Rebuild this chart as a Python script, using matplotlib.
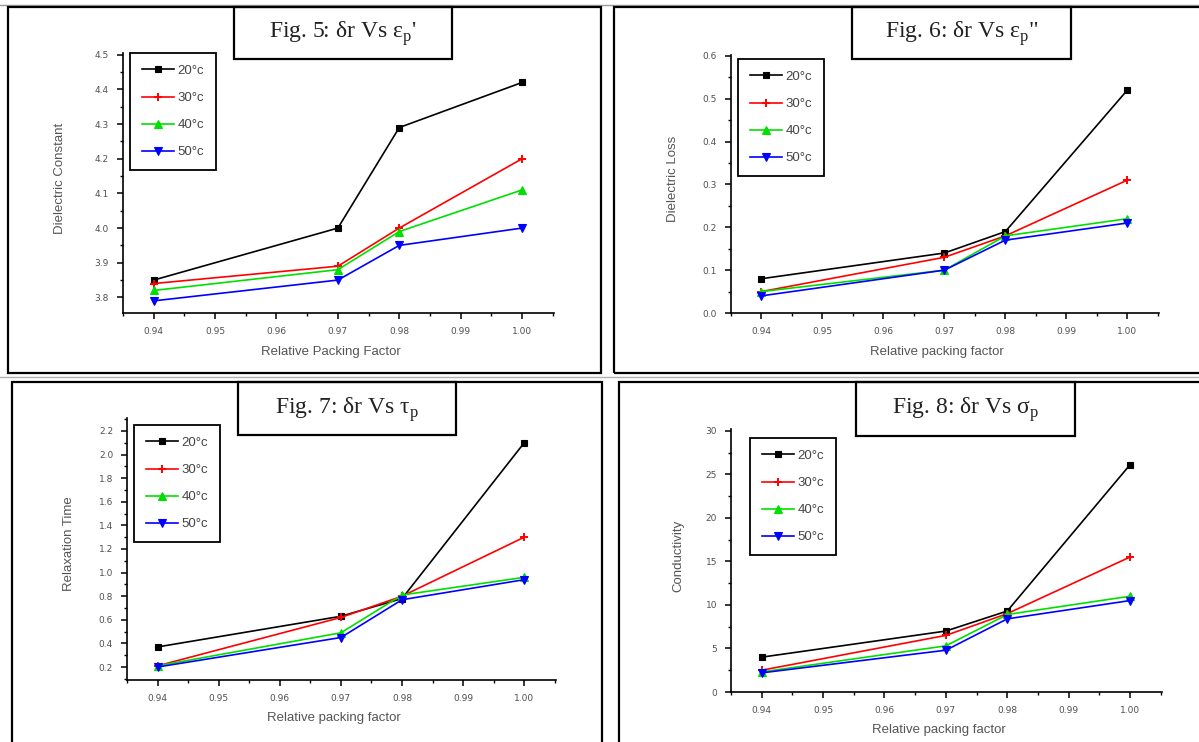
import matplotlib
matplotlib.use("Agg")
import matplotlib.pyplot as plt
from matplotlib.patches import Rectangle
from matplotlib.lines import Line2D
from matplotlib.ticker import MultipleLocator, AutoMinorLocator, FormatStrFormatter

# ---------------- data ----------------
packing_factor = [0.94, 0.97, 0.98, 1.00]
temps = ["20°c", "30°c", "40°c", "50°c"]

dielectric_constant = [
    [3.85, 4.00, 4.29, 4.42],
    [3.84, 3.89, 4.00, 4.20],
    [3.82, 3.88, 3.99, 4.11],
    [3.79, 3.85, 3.95, 4.00],
]
dielectric_loss = [
    [0.08, 0.14, 0.19, 0.52],
    [0.05, 0.13, 0.18, 0.31],
    [0.05, 0.10, 0.18, 0.22],
    [0.04, 0.10, 0.17, 0.21],
]
relaxation_time = [
    [0.37, 0.63, 0.78, 2.10],
    [0.21, 0.62, 0.80, 1.30],
    [0.21, 0.49, 0.81, 0.96],
    [0.20, 0.45, 0.77, 0.94],
]
conductivity = [
    [4.0, 7.0, 9.3, 26.1],
    [2.5, 6.5, 9.0, 15.5],
    [2.3, 5.3, 8.9, 11.0],
    [2.2, 4.8, 8.4, 10.5],
]

titles = [
    "Fig. 5: δr Vs ε$_\\mathregular{p}$'",
    "Fig. 6: δr Vs ε$_\\mathregular{p}$\"",
    "Fig. 7: δr Vs τ$_\\mathregular{p}$",
    "Fig. 8: δr Vs σ$_\\mathregular{p}$",
]
ylabels = ["Dielectric Constant", "Dielectric Loss", "Relaxation Time", "Conductivity"]
xlabels = ["Relative Packing Factor", "Relative packing factor",
           "Relative packing factor", "Relative packing factor"]

# ---------------- style ----------------
colors = ["black", "#ff0000", "#00e000", "#0000ff"]
markers = ["s", "+", "^", "v"]
msizes = [4.8, 6, 5.8, 5.8]

W, H = 1199, 742
fig = plt.figure(figsize=(W / 100, H / 100), dpi=100)

def fx(px):
    return px / W

def fy(py):
    return 1 - py / H

def box(x0, y0, x1, y1, lw=1.6, color="black", z=5):
    r = Rectangle((fx(x0), fy(y1)), fx(x1) - fx(x0), fy(y0) - fy(y1),
                  transform=fig.transFigure, fill=False, edgecolor=color,
                  linewidth=lw, zorder=z)
    fig.add_artist(r)

# panel borders
box(8, 7, 601, 373)
box(614, 7, 1210, 373)
box(12, 382, 602, 760)
box(619, 382, 1210, 760)
fig.add_artist(Line2D([0, 1], [fy(5), fy(5)], transform=fig.transFigure,
                      color="#9a9a9a", lw=1))
fig.add_artist(Line2D([0, 1], [fy(377.5), fy(377.5)], transform=fig.transFigure,
                      color="#b0b0b0", lw=1))

# axes geometry in pixels: left, right, top, bottom
axes_px = [
    (123, 554, 53, 313),
    (731, 1159, 55, 313),
    (127, 556, 418, 680),
    (731, 1162, 429, 692),
]
ylims = [(3.755, 4.505), (0.0, 0.602), (0.09, 2.31), (0.0, 30.2)]
ymajor = [0.1, 0.1, 0.2, 5]
yfmt = ["%.1f", "%.1f", "%.1f", "%d"]
title_px = [
    (234, 7, 452, 59),
    (852, 7, 1071, 59),
    (238, 382, 456, 435),
    (856, 382, 1075, 436),
]
legend_px = [(130, 53), (738, 59), (134, 425), (750, 438)]
ylabel_x = [60, 673, 69, 678]
xlabel_y = [352, 352, 718, 730]
datasets = [dielectric_constant, dielectric_loss, relaxation_time, conductivity]

label_color = "#555555"

for i in range(4):
    l, r, t, b = axes_px[i]
    ax = fig.add_axes([fx(l), fy(b), fx(r) - fx(l), fy(t) - fy(b)])
    for s, series in enumerate(datasets[i]):
        ax.plot(packing_factor, series, color=colors[s], marker=markers[s],
                markersize=msizes[s], markeredgewidth=1.4 if markers[s] == "+" else 0.8,
                linewidth=1.2, label=temps[s])
    ax.set_xlim(0.935, 1.0052)
    ax.set_ylim(*ylims[i])
    ax.xaxis.set_major_locator(MultipleLocator(0.01))
    ax.xaxis.set_minor_locator(AutoMinorLocator(2))
    ax.xaxis.set_major_formatter(FormatStrFormatter("%.2f"))
    ax.yaxis.set_major_locator(MultipleLocator(ymajor[i]))
    ax.yaxis.set_minor_locator(AutoMinorLocator(2))
    ax.yaxis.set_major_formatter(FormatStrFormatter(yfmt[i]))
    for sp in ["top", "right"]:
        ax.spines[sp].set_visible(False)
    for sp in ["left", "bottom"]:
        ax.spines[sp].set_linewidth(1.2)
    ax.tick_params(which="major", direction="out", length=4, width=1.1,
                   labelsize=6.5, labelcolor="#505050", pad=6)
    ax.tick_params(which="minor", direction="out", length=2.5, width=1.0)
    ax.patch.set_alpha(0)

    # axis labels
    fig.text(fx(ylabel_x[i]), fy((t + b) / 2 - 5), ylabels[i], rotation=90,
             ha="center", va="center", fontsize=9.5, color=label_color,
             family="Liberation Sans")
    fig.text(fx((l + r) / 2 - 8), fy(xlabel_y[i]), xlabels[i],
             ha="center", va="center", fontsize=9.5, color=label_color,
             family="Liberation Sans")

    # title box
    x0, y0, x1, y1 = title_px[i]
    box(x0, y0, x1, y1, lw=1.6)
    fig.text(fx((x0 + x1) / 2), fy((y0 + y1) / 2 + 1), titles[i],
             ha="center", va="center", fontsize=17, color="#222222",
             family="Liberation Serif")

    # legend
    lx, ly = legend_px[i]
    leg = ax.legend(loc="upper left", bbox_to_anchor=(fx(lx), fy(ly)),
                    bbox_transform=fig.transFigure,
                    handlelength=2.4, handletextpad=0.3, labelspacing=1.12,
                    borderpad=0.9, borderaxespad=0, fancybox=False,
                    framealpha=1, edgecolor="black",
                    prop={"family": "Liberation Sans", "size": 9.5})
    leg.get_frame().set_linewidth(1.3)
    for txt in leg.get_texts():
        txt.set_color("#444444")

fig.savefig("out.png", dpi=100)
